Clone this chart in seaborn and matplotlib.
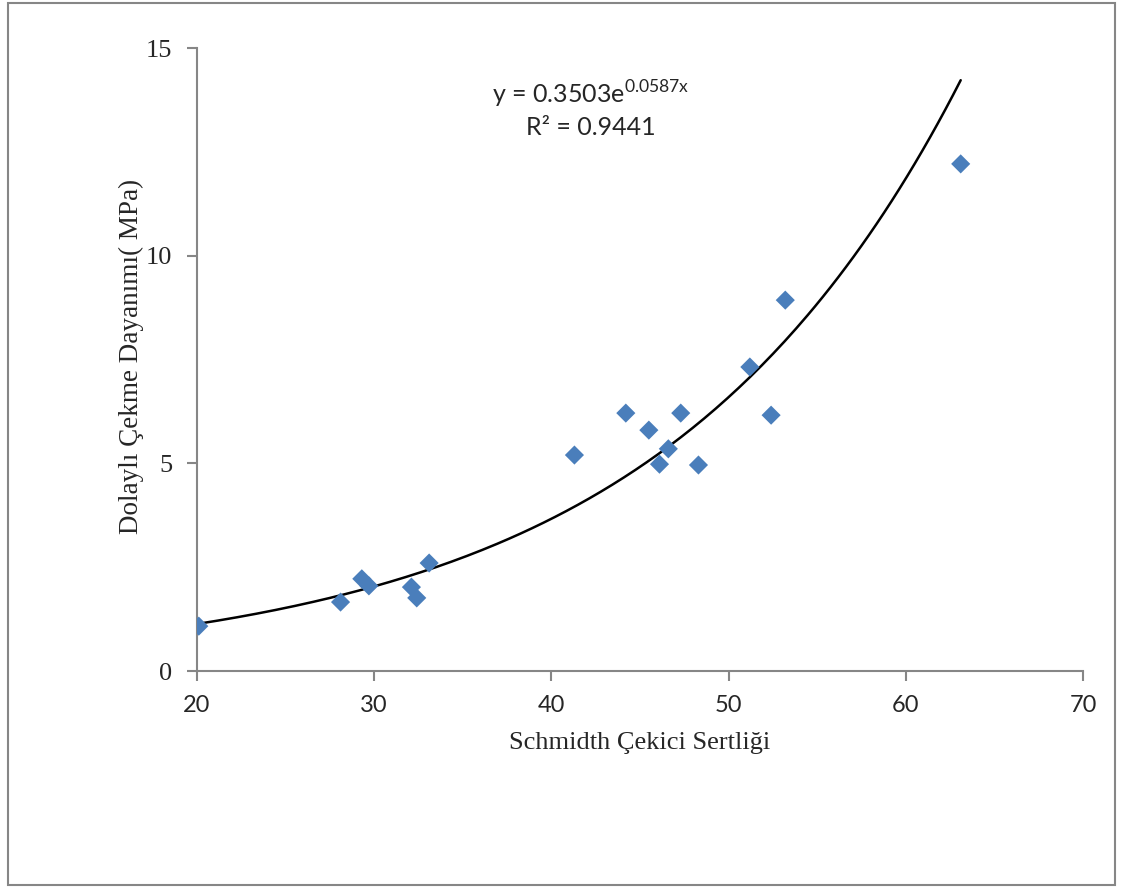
import matplotlib
matplotlib.use("Agg")
import matplotlib.pyplot as plt
import seaborn as sns
import numpy as np
import pandas as pd
from matplotlib.patches import Rectangle

# Data
schmidt = [20.1, 28.1, 29.3, 29.7, 32.1, 32.4, 33.1, 41.3, 44.2, 45.5,
           46.1, 46.6, 47.3, 48.3, 51.2, 52.4, 53.2, 63.1]
tensile = [1.08, 1.66, 2.22, 2.05, 2.02, 1.76, 2.60, 5.20, 6.21, 5.80,
           4.98, 5.35, 6.21, 4.96, 7.32, 6.16, 8.93, 12.21]

# exponential trendline coefficients shown on the chart
coef_a = 0.3503
coef_b = 0.0587
trend_start, trend_end = 20.1, 63.1

x_ticks = [20, 30, 40, 50, 60, 70]
y_ticks = [0, 5, 10, 15]

df = pd.DataFrame({"x": schmidt, "y": tensile})
trend_x = np.linspace(trend_start, trend_end, 200)
trend = pd.DataFrame({"x": trend_x, "y": coef_a * np.exp(coef_b * trend_x)})

sns.set_style("white")
plt.rcParams["mathtext.fontset"] = "custom"
plt.rcParams["mathtext.rm"] = "Lato"

fig = plt.figure(figsize=(11.22, 8.91), dpi=100)
ax = fig.add_axes([0.1756, 0.2469, 0.7896, 0.6992])

sns.lineplot(data=trend, x="x", y="y", ax=ax, color="black", linewidth=1.8)
sns.scatterplot(data=df, x="x", y="y", ax=ax, marker="D", s=95,
                color="#4a7ebb", edgecolor="none", zorder=3)

ax.set_xlim(20, 70)
ax.set_ylim(0, 15)
ax.set_xticks(x_ticks)
ax.set_yticks(y_ticks)
ax.set_xticklabels([str(t) for t in x_ticks], fontfamily="Lato", fontsize=17)
ax.set_yticklabels([str(t) for t in y_ticks], fontfamily="Liberation Serif", fontsize=19)
ax.tick_params(axis="both", direction="out", length=7, width=1.5, color="#868686",
               bottom=True, left=True)
ax.tick_params(axis="x", pad=10)
ax.tick_params(axis="y", pad=11)

for side in ["top", "right"]:
    ax.spines[side].set_visible(False)
for side in ["left", "bottom"]:
    ax.spines[side].set_color("#868686")
    ax.spines[side].set_linewidth(1.5)

ax.set_xlabel("Schmidth Çekici Sertliği", fontfamily="Liberation Serif", fontsize=19, labelpad=12)
ax.set_ylabel("Dolaylı Çekme Dayanımı( MPa)", fontfamily="Liberation Serif", fontsize=19.5)
ax.yaxis.set_label_coords(-0.060, 0.505)

ax.text(0.444, 0.925, r"y = 0.3503e$^{\mathregular{0.0587x}}$", transform=ax.transAxes,
        ha="center", va="center", fontfamily="Lato", fontsize=18)
ax.text(0.444, 0.873, "R² = 0.9441", transform=ax.transAxes,
        ha="center", va="center", fontfamily="Lato", fontsize=18)

fig.patches.append(Rectangle((8 / 1122, 6 / 891), 1107 / 1122, 882 / 891,
                             transform=fig.transFigure, fill=False,
                             edgecolor="#868686", linewidth=1.5))

fig.savefig("out.png", dpi=100)
